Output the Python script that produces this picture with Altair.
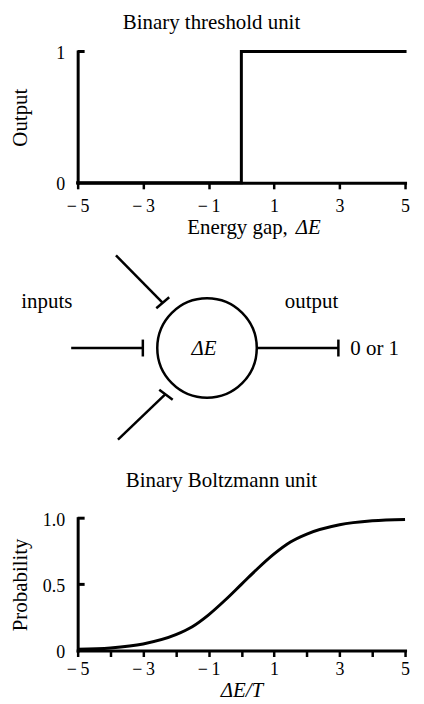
import altair as alt
import pandas as pd

FONT = "Liberation Serif"
INK = "black"

# ---------------- data ----------------
# Binary threshold unit (step response)
step_x = [-5, 0, 0, 5]
step_y = [0, 0, 1, 1]

# Binary Boltzmann unit, probability
prob_x = [-5, -4, -3, -2, -1.5, -1, -0.5, 0, 0.5, 1, 1.5, 2, 3, 4, 5]
prob_y = [0.01, 0.02, 0.05, 0.12, 0.18, 0.27, 0.38, 0.50, 0.62, 0.73, 0.82, 0.88, 0.95, 0.98, 0.99]

x_ticks = [-5, -4, -3, -2, -1, 0, 1, 2, 3, 4, 5]
top_y_ticks = [0, 1]
bot_y_ticks = [0, 0.5, 1.0]

top_title = "Binary threshold unit"
bot_title = "Binary Boltzmann unit"
top_xtitle = ["Energy gap,", "ΔE"]
top_xtitle_pos = [1.42, 1.66]   # x (data units) where the two pieces meet
top_xtitle_y = -0.39
bot_xtitle = "ΔE/T"

# neuron diagram (diagram units, circle of radius 1 at origin)
seg_x = [-2.73, -1.29, -1.83, -1.02, -1.79, -0.96, 1.00, 2.64]
seg_y = [0.00, -0.17, 1.86, 0.80, -1.84, -0.84, 0.00, -0.17]
seg_x2 = [-1.29, -1.29, -0.89, -0.76, -0.83, -0.69, 2.64, 2.64]
seg_y2 = [0.00, 0.17, 0.91, 1.02, -0.92, -1.04, 0.00, 0.17]
node_x = [0.0]
node_y = [0.0]
lab_text = ["inputs", "output"]
lab_x = [-3.22, 2.10]
lab_y = [0.80, 0.80]
node_label = "ΔE"
out_value = "0 or 1"
out_value_x = 2.88
inner_y = -0.14
diag_xdom = [-2.6, 3.98]
diag_ydom = [-3.42, 3.32]

# ---------------- helpers ----------------
xlab_expr = ("abs(datum.value) % 2 == 1 ? (datum.value < 0 ? '\u2212\u2009' + abs(datum.value) "
             ": '' + datum.value) : ''")
TXT = 21


def x_axis(label_pad, title=None):
    kw = dict(values=x_ticks, labelExpr=xlab_expr, tickSize=6, tickWidth=2.5,
              tickColor=INK, domainColor=INK, domainWidth=3, domainCap="square",
              labelFont=FONT, labelFontSize=18, labelColor=INK, labelPadding=label_pad,
              grid=False, labelFlush=False)
    if title is None:
        kw["title"] = None
    else:
        kw.update(title=title, titleFont=FONT, titleFontSize=TXT, titleFontStyle="italic",
                  titleFontWeight="normal", titleColor=INK, titlePadding=1)
    return alt.Axis(**kw)


def y_axis(values, title):
    return alt.Axis(values=values,
                    labelExpr="datum.value == 0 ? '0' : (datum.value == 1 && " +
                              ("true" if len(values) > 2 else "false") +
                              " ? '1.0' : format(datum.value, '.1~f'))",
                    ticks=False, tickSize=0, domainColor=INK, domainWidth=3, domainCap="square",
                    labelFont=FONT, labelFontSize=18, labelColor=INK, labelPadding=13,
                    labelOffset=2, minExtent=40, maxExtent=40, grid=False,
                    title=title, titleFont=FONT, titleFontSize=TXT, titleFontWeight="normal",
                    titleColor=INK, titlePadding=7)


W = 329

# ---------------- top chart ----------------
step_df = pd.DataFrame({"x": step_x, "y": step_y})
xs_top = alt.Scale(domain=[-5, 5], nice=False, zero=False)
ys_top = alt.Scale(domain=[0, 1], nice=False)

step_line = alt.Chart(step_df).mark_line(color=INK, strokeWidth=3, strokeCap="square").encode(
    x=alt.X("x:Q", scale=xs_top, axis=x_axis(9)),
    y=alt.Y("y:Q", scale=ys_top, axis=y_axis(top_y_ticks, "Output")),
)
top_ticks = alt.Chart(pd.DataFrame({"v": top_y_ticks[1:]})).mark_rule(color=INK, strokeWidth=3).encode(
    x=alt.value(0), x2=alt.value(7), y=alt.Y("v:Q", scale=ys_top)
)
xt1 = alt.Chart(pd.DataFrame({"x": [top_xtitle_pos[0]], "y": [top_xtitle_y], "t": [top_xtitle[0]]})).mark_text(
    font=FONT, fontSize=TXT, color=INK, align="right", baseline="alphabetic"
).encode(x=alt.X("x:Q", scale=xs_top), y=alt.Y("y:Q", scale=ys_top), text="t:N")
xt2 = alt.Chart(pd.DataFrame({"x": [top_xtitle_pos[1]], "y": [top_xtitle_y], "t": [top_xtitle[1]]})).mark_text(
    font=FONT, fontSize=TXT, color=INK, align="left", baseline="alphabetic", fontStyle="italic"
).encode(x=alt.X("x:Q", scale=xs_top), y=alt.Y("y:Q", scale=ys_top), text="t:N")

top = alt.layer(step_line, top_ticks, xt1, xt2).properties(
    width=W, height=132,
    title=alt.TitleParams(top_title, font=FONT, fontSize=TXT, fontWeight="normal", color=INK,
                          frame="group", anchor="middle", dx=-30, offset=12),
)

# ---------------- middle diagram ----------------
xs_d = alt.Scale(domain=diag_xdom, nice=False, zero=False)
ys_d = alt.Scale(domain=diag_ydom, nice=False, zero=False)

seg_df = pd.DataFrame({"x": seg_x, "y": seg_y, "x2": seg_x2, "y2": seg_y2})
segs = alt.Chart(seg_df).mark_rule(color=INK, strokeWidth=2.5).encode(
    x=alt.X("x:Q", scale=xs_d, axis=None), y=alt.Y("y:Q", scale=ys_d, axis=None),
    x2="x2:Q", y2="y2:Q",
)
node = alt.Chart(pd.DataFrame({"x": node_x, "y": node_y})).mark_point(
    shape="circle", size=10000, filled=False, strokeWidth=2.5, color=INK, opacity=1
).encode(x=alt.X("x:Q", scale=xs_d, axis=None), y=alt.Y("y:Q", scale=ys_d, axis=None))
labs = alt.Chart(pd.DataFrame({"x": lab_x, "y": lab_y, "t": lab_text})).mark_text(
    font=FONT, fontSize=TXT, color=INK, align="center", baseline="alphabetic"
).encode(x=alt.X("x:Q", scale=xs_d, axis=None), y=alt.Y("y:Q", scale=ys_d, axis=None), text="t:N")
nlab = alt.Chart(pd.DataFrame({"x": [-0.06], "y": [inner_y], "t": [node_label]})).mark_text(
    font=FONT, fontSize=TXT, color=INK, align="center", baseline="alphabetic", fontStyle="italic"
).encode(x=alt.X("x:Q", scale=xs_d, axis=None), y=alt.Y("y:Q", scale=ys_d, axis=None), text="t:N")
olab = alt.Chart(pd.DataFrame({"x": [out_value_x], "y": [inner_y], "t": [out_value]})).mark_text(
    font=FONT, fontSize=TXT, color=INK, align="left", baseline="alphabetic"
).encode(x=alt.X("x:Q", scale=xs_d, axis=None), y=alt.Y("y:Q", scale=ys_d, axis=None), text="t:N")

mid = alt.layer(segs, node, labs, nlab, olab).properties(width=W, height=337)

# ---------------- bottom chart ----------------
prob_df = pd.DataFrame({"x": prob_x, "y": prob_y})
xs_bot = alt.Scale(domain=[-5, 5], nice=False, zero=False)
ys_bot = alt.Scale(domain=[0, 1], nice=False)

curve = alt.Chart(prob_df).mark_line(color=INK, strokeWidth=3, interpolate="monotone").encode(
    x=alt.X("x:Q", scale=xs_bot, axis=x_axis(4, bot_xtitle)),
    y=alt.Y("y:Q", scale=ys_bot, axis=y_axis(bot_y_ticks, "Probability")),
)
bot_ticks = alt.Chart(pd.DataFrame({"v": bot_y_ticks[1:]})).mark_rule(color=INK, strokeWidth=3).encode(
    x=alt.value(0), x2=alt.value(7), y=alt.Y("v:Q", scale=ys_bot)
)
bot = alt.layer(curve, bot_ticks).properties(
    width=W, height=133,
    title=alt.TitleParams(bot_title, font=FONT, fontSize=TXT, fontWeight="normal", color=INK,
                          frame="group", anchor="middle", dx=-20, offset=20),
)

chart = alt.vconcat(top, mid, bot, spacing=0, bounds="flush").properties(
    padding={"left": 2, "top": 2, "right": 5, "bottom": 0},
    background="white",
).configure_view(stroke=None)

chart.save("out.html", embed_options={"renderer": "svg", "actions": False})
